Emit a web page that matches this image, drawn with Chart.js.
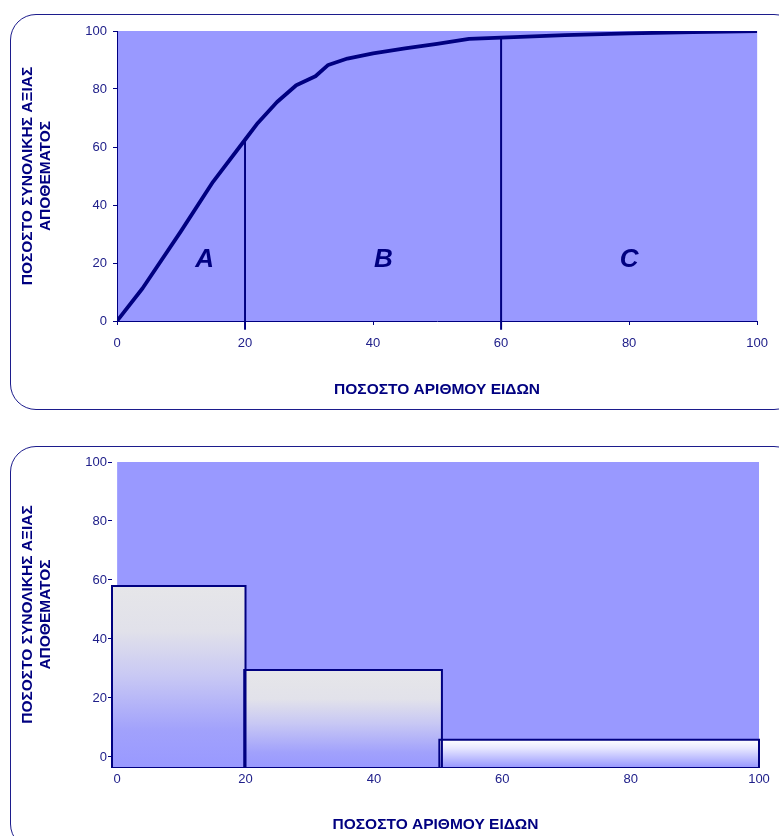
<!DOCTYPE html>
<html>
<head>
<meta charset="utf-8">
<script src="https://cdn.jsdelivr.net/npm/chart.js@4.4.0/dist/chart.umd.min.js"></script>
<style>
body{margin:0;background:#fff;width:779px;height:836px;overflow:hidden;position:relative}
.frame{position:absolute;border:1.5px solid #1c1c8c;border-radius:26px;box-sizing:border-box}
#f1{left:10px;top:14px;width:790px;height:396px}
#f2{left:10px;top:446px;width:790px;height:404px}
#c1{position:absolute;left:0;top:0}
#c2{position:absolute;left:0;top:430px}
</style>
</head>
<body>
<div class="frame" id="f1"></div>
<div class="frame" id="f2"></div>
<canvas id="c1" width="779" height="420"></canvas>
<canvas id="c2" width="779" height="406"></canvas>
<script>

// ===== DATA =====
let curveX=[0,4,10,15,20,22,25,28,31,33,36,40,45,50,55,60,70,80,90,100]
let curveY=[0,11.3,31,48,62.5,68.3,75.5,81.3,84.4,88.3,90.5,92.3,94,95.6,97.3,97.7,98.6,99.2,99.6,100]
let cutX=[20,60]          // όρια A-B και B-C
let zoneLabels=["A","B","C"]
let zoneX=[13.7,41.6,80]
let zoneY=21
let axisTicks=[0,20,40,60,80,100]

let barStart=[-0.8,19.8,50.2]
let barEnd=[20,50.6,100]
let barValue=[58,29.5,5.8]
let barBase=-3.4

let yTitle=["ΠΟΣΟΣΤΟ ΣΥΝΟΛΙΚΗΣ ΑΞΙΑΣ","ΑΠΟΘΕΜΑΤΟΣ"]
let xTitle="ΠΟΣΟΣΤΟ ΑΡΙΘΜΟΥ ΕΙΔΩΝ"

let navy="#000080"
let tickCol="#20208a"
let font="'Liberation Sans', Arial, sans-serif"

Chart.defaults.font.family=font
Chart.defaults.devicePixelRatio=1

// ===== PLUGINS =====
let plotBg={
  id:"plotBg",
  beforeDraw(chart){
    let {ctx,chartArea,scales}=chart
    let x0=Math.max(chartArea.left,scales.x.getPixelForValue(0))
    let y0=scales.y.getPixelForValue(100)
    ctx.save()
    ctx.fillStyle="#9999ff"
    ctx.fillRect(x0,y0,chartArea.right-x0,chartArea.bottom-y0)
    ctx.restore()
  }
}

let zoneText={
  id:"zoneText",
  afterDatasetsDraw(chart){
    let {ctx,scales}=chart
    ctx.save()
    ctx.fillStyle=navy
    ctx.font="italic bold 26px "+font
    ctx.textAlign="center"
    ctx.textBaseline="middle"
    zoneLabels.forEach(function(t,i){
      ctx.fillText(t,scales.x.getPixelForValue(zoneX[i]),scales.y.getPixelForValue(zoneY))
    })
    ctx.restore()
  }
}

function valueAt(x){
  let i=curveX.indexOf(x)
  return curveY[i]
}

function fixTicks(scale){
  scale.ticks=axisTicks.map(function(v){return {value:v}})
}

function axes(yw,xh,ypad,ytl){
  return {
    x:{
      type:"linear",min:0,max:100,
      afterBuildTicks:fixTicks,
      afterFit:function(s){s.height=xh},
      grid:{display:true,drawOnChartArea:false,color:navy,tickLength:4},
      border:{display:true,color:navy,width:1},
      ticks:{color:tickCol,font:{size:13},padding:11,maxRotation:0},
      title:{display:true,text:xTitle,color:navy,font:{size:15.5,weight:"bold"},padding:{top:0,bottom:21}}
    },
    y:{
      type:"linear",min:0,max:100,
      afterBuildTicks:fixTicks,
      afterFit:function(s){s.width=yw},
      grid:{display:true,drawOnChartArea:false,color:navy,tickLength:ytl},
      border:{display:true,color:navy,width:1},
      ticks:{color:tickCol,font:{size:13},padding:ypad},
      title:{display:true,text:yTitle,color:navy,font:{size:15.5,weight:"bold",lineHeight:1.17},padding:{top:19,bottom:0}}
    }
  }
}

// ===== ΚΑΜΠΥΛΗ ABC =====
let curveData=curveX.map(function(x,i){return {x:x,y:curveY[i]}})
let cutSets=cutX.map(function(c){
  return {
    data:[{x:c,y:-3},{x:c,y:valueAt(c)}],
    borderColor:navy,borderWidth:2,pointRadius:0,clip:false
  }
})

let opt1=axes(117,99,6,4)

new Chart(document.getElementById("c1"),{
  type:"line",
  data:{datasets:[{
    data:curveData,
    borderColor:navy,borderWidth:3.8,pointRadius:0,tension:0,
    borderJoinStyle:"round"
  }].concat(cutSets)},
  options:{
    responsive:false,animation:false,
    layout:{padding:{left:0,top:31,right:21,bottom:0}},
    plugins:{legend:{display:false},tooltip:{enabled:false}},
    scales:opt1
  },
  plugins:[plotBg,zoneText]
})

// ===== ΡΑΒΔΟΓΡΑΜΜΑ =====
let barStops=[
  [[0,"#e6e6e9"],[0.25,"#e1e1ea"],[0.5,"#c8c8f4"],[0.8,"#a1a1fc"],[1,"#9999ff"]],
  [[0,"#e6e6e9"],[0.3,"#e2e2ea"],[0.55,"#c8c8f4"],[0.85,"#a1a1fc"],[1,"#9999ff"]],
  [[0,"#ffffff"],[0.3,"#e8e8ff"],[1,"#9999ff"]]
]

// μεγαλύτερο order = ζωγραφίζεται πιο κάτω
let barSets=[]
barValue.forEach(function(v,i){
  // γέμισμα: η πάνω πλευρά γεμίζει ως τη βάση
  barSets.push({
    order:20-i,
    data:[{x:barStart[i],y:v},{x:barEnd[i],y:v}],
    borderWidth:0,pointRadius:0,tension:0,
    fill:{value:barBase},
    backgroundColor:function(c){
      let ch=c.chart
      if(!ch.chartArea) return "#ccccf0"
      let y=ch.scales.y
      let g=ch.ctx.createLinearGradient(0,y.getPixelForValue(v),0,y.getPixelForValue(barBase))
      barStops[i].forEach(function(s){g.addColorStop(s[0],s[1])})
      return g
    }
  })
  // περίγραμμα
  barSets.push({
    order:10-i,
    data:[
      {x:barStart[i],y:barBase},{x:barStart[i],y:v},
      {x:barEnd[i],y:v},{x:barEnd[i],y:barBase}
    ],
    borderColor:navy,borderWidth:2,pointRadius:0,tension:0,fill:false,clip:false
  })
})

let opt2=axes(112,69,1,4)
opt2.x.min=barStart[0]
opt2.y.min=barBase
opt2.x.grid.drawTicks=false
opt2.x.ticks.padding=5
opt2.x.border.width=2
opt2.x.title.padding={top:0,bottom:2}
opt2.y.border.display=false

new Chart(document.getElementById("c2"),{
  type:"line",
  data:{datasets:barSets},
  options:{
    responsive:false,animation:false,
    layout:{padding:{left:0,top:32,right:20,bottom:0}},
    plugins:{legend:{display:false},tooltip:{enabled:false}},
    scales:opt2
  },
  plugins:[plotBg]
})
</script>
</body>
</html>
